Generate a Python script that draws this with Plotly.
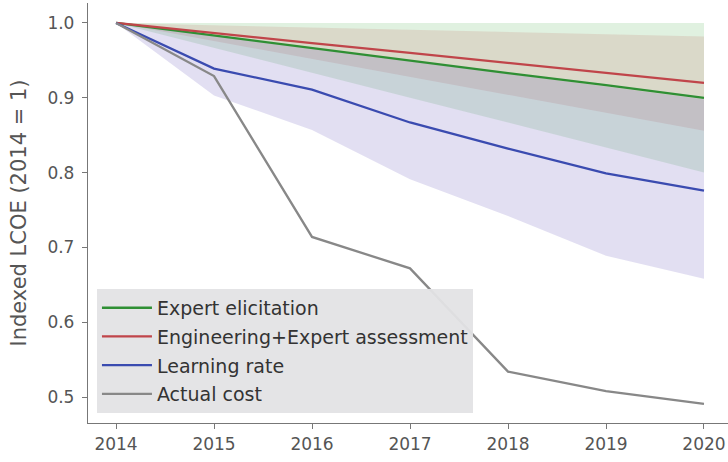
import plotly.graph_objects as go

years = [2014, 2015, 2016, 2017, 2018, 2019, 2020]

expert_elicitation = [1.0, 0.983, 0.967, 0.950, 0.933, 0.917, 0.900]
engineering_expert = [1.0, 0.987, 0.973, 0.960, 0.947, 0.933, 0.920]
learning_rate = [1.0, 0.939, 0.911, 0.867, 0.832, 0.799, 0.776]
actual_cost = [1.0, 0.929, 0.714, 0.672, 0.534, 0.508, 0.491]

ee_low = [1.0, 0.967, 0.933, 0.900, 0.867, 0.833, 0.800]
ee_high = [1.0, 1.0, 1.0, 1.0, 1.0, 1.0, 1.0]
eng_low = [1.0, 0.976, 0.952, 0.928, 0.904, 0.880, 0.856]
eng_high = [1.0, 0.997, 0.994, 0.991, 0.988, 0.985, 0.982]
lr_low = [1.0, 0.903, 0.857, 0.791, 0.742, 0.689, 0.658]
lr_high = [1.0, 0.983, 0.966, 0.949, 0.932, 0.915, 0.898]

y_ticks = [0.5, 0.6, 0.7, 0.8, 0.9, 1.0]

GREEN = "#2f8f34"
RED = "#c0454a"
BLUE = "#3a4bb0"
GREY = "#888888"

fig = go.Figure()

bands = [
    (ee_low, ee_high, "rgba(44,160,44,0.15)"),
    (eng_low, eng_high, "rgba(190,100,90,0.17)"),
    (lr_low, lr_high, "rgba(95,80,185,0.18)"),
]
for low, high, col in bands:
    fig.add_trace(go.Scatter(x=years, y=low, mode="lines", line=dict(width=0),
                             showlegend=False, hoverinfo="skip"))
    fig.add_trace(go.Scatter(x=years, y=high, mode="lines", line=dict(width=0),
                             fill="tonexty", fillcolor=col,
                             showlegend=False, hoverinfo="skip"))

series = [
    ("Expert elicitation", expert_elicitation, GREEN),
    ("Engineering+Expert assessment", engineering_expert, RED),
    ("Learning rate", learning_rate, BLUE),
    ("Actual cost", actual_cost, GREY),
]
for i, (name, vals, col) in enumerate(series):
    fig.add_trace(go.Scatter(x=years, y=vals, mode="lines", name=name,
                             legendgroup=f"g{i}",
                             line=dict(color=col, width=2.3)))

fig.update_layout(
    width=728, height=462,
    margin=dict(l=88, r=0, t=3, b=39),
    paper_bgcolor="white", plot_bgcolor="white",
    font=dict(family="DejaVu Sans", size=17, color="#555555"),
    showlegend=True,
    legend=dict(
        x=0.014, y=0.024, xanchor="left", yanchor="bottom",
        bgcolor="rgba(227,227,229,0.95)", borderwidth=0,
        font=dict(family="DejaVu Sans", size=19, color="#333333"),
        traceorder="grouped", tracegroupgap=1,
        itemwidth=50,
    ),
    xaxis=dict(
        range=[2013.714, 2020.245], tickmode="array", tickvals=years,
        ticktext=[str(y) for y in years], automargin=False,
        showgrid=False, zeroline=False, showline=True, linecolor="#777777",
        linewidth=1.3, ticks="outside", ticklen=5, tickcolor="#777777",
        tickfont=dict(size=17, color="#555555"),
    ),
    yaxis=dict(
        range=[0.4653, 1.0267], tickmode="array", tickvals=y_ticks,
        ticktext=[f"{v:.1f}" for v in y_ticks], automargin=False,
        showgrid=False, zeroline=False, showline=True, linecolor="#777777",
        linewidth=1.3, ticks="outside", ticklen=5, tickcolor="#777777",
        tickfont=dict(size=17, color="#555555"), ticklabelstandoff=4,
        title=dict(text="Indexed LCOE (2014 = 1)", font=dict(size=21, color="#555555"),
                   standoff=15),
    ),
)

fig.write_html("out.html",
               config={"displayModeBar": False},
               post_script="document.body.style.margin='0';document.body.style.overflow='hidden';")
